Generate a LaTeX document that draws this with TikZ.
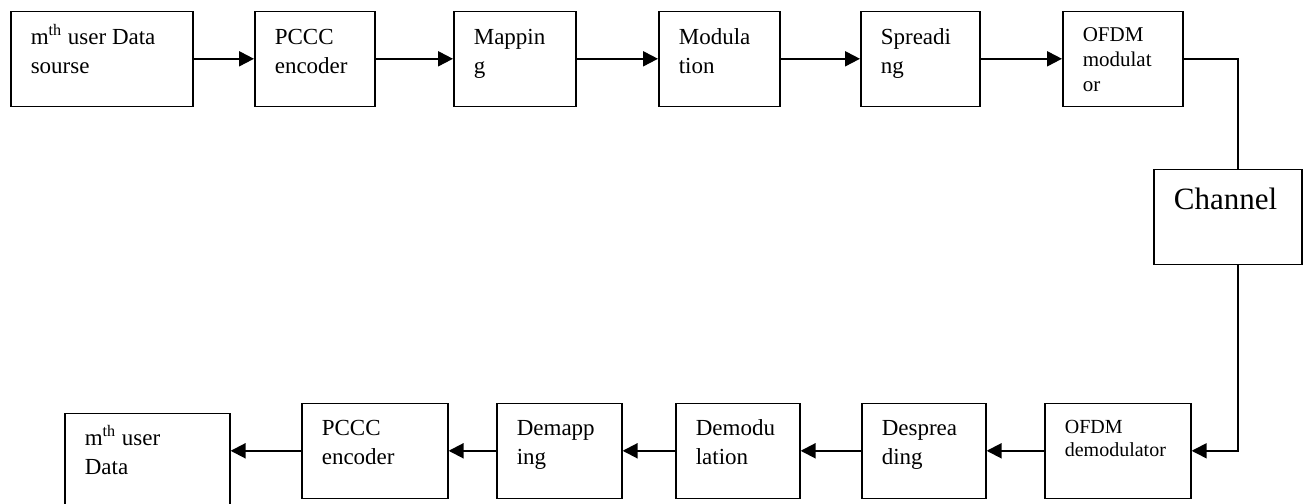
\documentclass[tikz,border=0pt]{standalone}
\usepackage{fontspec}
\setmainfont{Liberation Serif}
\usetikzlibrary{arrows.meta}

\tikzset{
  blk/.style={draw, line width=0.8pt, anchor=north west, align=flush left,
    inner xsep=10pt, inner ysep=0pt, text height=16.5pt, text depth=31pt,
    font=\fontsize{11.5}{14.5}\selectfont},
  rxblk/.style={blk, text height=16pt, text depth=31.5pt},
  ofdmblk/.style={blk, text height=15pt, text depth=32.5pt},
  sig/.style={line width=1pt, -{Triangle[length=7.5pt,width=7.5pt]}},
}

\begin{document}
\begin{tikzpicture}[x=0.5pt,y=-0.5pt]
	\useasboundingbox (0,0) rectangle (1309,503);
	% transmitter
	\node[blk, text width=71pt] (src) at (10,10.5) {m\textsuperscript{th} user Data\\sourse};
	\node[blk, text width=40pt] (enc) at (254,10.5) {PCCC\\encoder};
	\node[blk, text width=41pt] (map) at (453,10.5) {Mappin\\g};
	\node[blk, text width=40.5pt] (mod) at (658,10.5) {Modula\\tion};
	\node[blk, text width=39.5pt] (spr) at (860,10.5) {Spreadi\\ng};
	\node[ofdmblk, text width=40pt, font=\fontsize{10.5}{12.5}\selectfont] (ofdmmod) at (1062,10.5) {OFDM\\modulat\\or};
	% channel
	\node[blk, text width=54pt, text height=20pt, text depth=27.5pt, font=\fontsize{15.5}{18}\selectfont] (chan) at (1153,168.5) {Channel};
	\coordinate (tap) at (1238,0);
	% receiver
	\node[ofdmblk, text width=53pt, font=\fontsize{10}{11.5}\selectfont] (ofdmdem) at (1044,402.5) {OFDM\\demodulator};
	\node[rxblk, text width=42pt] (desp) at (861,402.5) {Desprea\\ding};
	\node[rxblk, text width=42pt] (demod) at (675,402.5) {Demodu\\lation};
	\node[rxblk, text width=42.5pt] (demap) at (496,402.5) {Demapp\\ing};
	\node[rxblk, text width=53pt] (dec) at (301,402.5) {PCCC\\encoder};
	\node[rxblk, text width=62.5pt, text depth=70pt] (sink) at (64,412.5) {m\textsuperscript{th} user\\Data};
	\path[sig]
		(src) edge (enc)
		(enc) edge (map)
		(map) edge (mod)
		(mod) edge (spr)
		(spr) edge (ofdmmod);
	\draw[line width=0.7pt] (ofdmmod.east) -| (tap |- chan.north);
	\draw[sig, line width=0.8pt] (tap |- chan.south) |- (ofdmdem.east);
	\path[sig]
		(ofdmdem) edge (desp)
		(desp) edge (demod)
		(demod) edge (demap)
		(demap) edge (dec);
	\draw[sig] (dec.west) -- (dec.west -| sink.east);
\end{tikzpicture}
\end{document}
